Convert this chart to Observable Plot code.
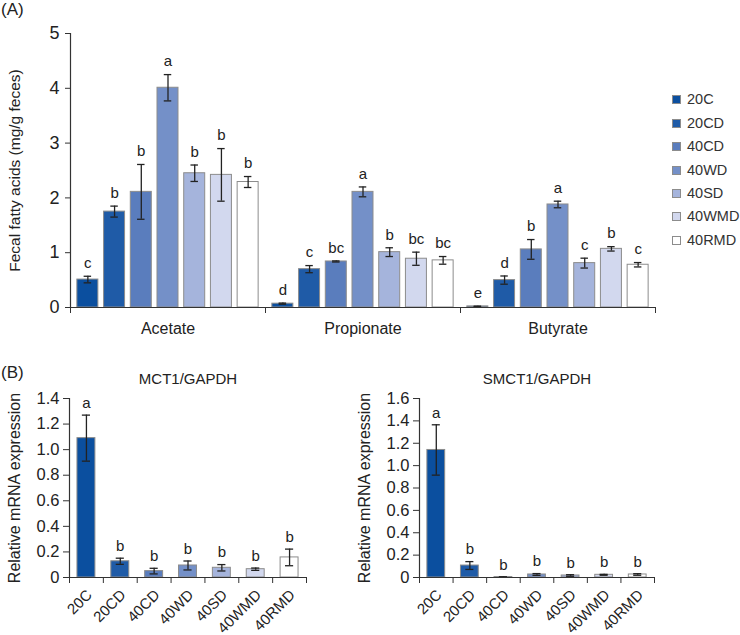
<!DOCTYPE html>
<html><head><meta charset="utf-8">
<script src="https://cdn.jsdelivr.net/npm/d3@7"></script>
<script src="https://cdn.jsdelivr.net/npm/@observablehq/plot@0.6"></script>
<style>
body{margin:0;background:#fff;font-family:"Liberation Sans",Arial,sans-serif;color:#222;}
#root{position:relative;width:740px;height:635px;overflow:hidden;background:#fff;}
.abs{position:absolute;}
.legrow{position:absolute;left:672px;height:16px;display:flex;align-items:center;font-size:14.5px;color:#333;}
.sw{width:9px;height:9px;border:1px solid #8c8c8c;box-sizing:border-box;margin-right:6px;}
</style></head><body><div id="root"></div>
<script>
// ---- data ----
const groups = ["20C","20CD","40CD","40WD","40SD","40WMD","40RMD"];
const groupColors = ["#0b4f9f","#1f5ba7","#5a7dbd","#7490c8","#a5b4dc","#d2d8ee","#ffffff"];
const acids = ["Acetate","Propionate","Butyrate"];

const acetateMean = [0.51,1.75,2.11,4.01,2.45,2.42,2.29];
const acetateErr  = [0.06,0.10,0.50,0.24,0.15,0.48,0.10];
const acetateSig  = ["c","b","b","a","b","b","b"];

const propionateMean = [0.07,0.70,0.84,2.11,1.01,0.89,0.86];
const propionateErr  = [0.01,0.065,0.01,0.09,0.08,0.12,0.07];
const propionateSig  = ["d","c","bc","a","b","bc","bc"];

const butyrateMean = [0.02,0.50,1.06,1.88,0.81,1.07,0.78];
const butyrateErr  = [0.005,0.075,0.18,0.06,0.09,0.04,0.04];
const butyrateSig  = ["e","d","b","a","c","b","c"];

const fattyTicks = [0,1,2,3,4,5];

const mct1Mean = [1.09,0.127,0.05,0.094,0.076,0.065,0.157];
const mct1Err  = [0.18,0.024,0.022,0.035,0.025,0.009,0.065];
const mct1Sig  = ["a","b","b","b","b","b","b"];
const mct1Ticks = [0,0.2,0.4,0.6,0.8,1.0,1.2,1.4];

const smct1Mean = [1.14,0.107,0.004,0.027,0.018,0.024,0.027];
const smct1Err  = [0.225,0.035,0.002,0.008,0.007,0.004,0.007];
const smct1Sig  = ["a","b","b","b","b","b","b"];
const smct1Ticks = [0,0.2,0.4,0.6,0.8,1.0,1.2,1.4,1.6];

// ---- build ----
const FONT = '"Liberation Sans", Arial, sans-serif';
const AX = "#333";
const root = document.getElementById("root");
function place(el, left, top){ const d=document.createElement("div"); d.className="abs"; d.style.left=left+"px"; d.style.top=top+"px"; d.appendChild(el); root.appendChild(d); return d; }

const acidSeries = {Acetate:[acetateMean,acetateErr,acetateSig], Propionate:[propionateMean,propionateErr,propionateSig], Butyrate:[butyrateMean,butyrateErr,butyrateSig]};
const dataA = [];
for (const a of acids) { const [m,e,s] = acidSeries[a]; groups.forEach((g,i)=>dataA.push({acid:a, group:g, i, mean:m[i], err:e[i], sig:s[i]})); }

const xLo = -0.15, xHi = 7.15, gapA = 0.107, capA = 0.14;
const chartA = Plot.plot({
  width: 740, height: 340, marginLeft: 69, marginRight: 85, marginTop: 33, marginBottom: 33,
  style: {fontFamily: FONT, fontSize: "16px", color: AX, background: "none"},
  fx: {domain: acids, padding: 0},
  x: {domain: [xLo, xHi]},
  y: {domain: [0, 5]},
  color: {domain: groups, range: groupColors},
  marks: [
    Plot.rectY(dataA, {fx: "acid", x1: d => d.i + gapA, x2: d => d.i + 1 - gapA, y1: 0, y2: "mean", fill: "group", stroke: "#8c8c8c", strokeWidth: 1}),
    Plot.ruleX(dataA, {fx: "acid", x: d => d.i + 0.5, y1: d => d.mean - d.err, y2: d => d.mean + d.err, stroke: "#222", strokeWidth: 1.3}),
    Plot.ruleY(dataA, {fx: "acid", x1: d => d.i + 0.5 - capA, x2: d => d.i + 0.5 + capA, y: d => d.mean + d.err, stroke: "#222", strokeWidth: 1.3}),
    Plot.ruleY(dataA, {fx: "acid", x1: d => d.i + 0.5 - capA, x2: d => d.i + 0.5 + capA, y: d => d.mean - d.err, stroke: "#222", strokeWidth: 1.3}),
    Plot.text(dataA, {fx: "acid", x: d => d.i + 0.5, y: d => d.mean + d.err, text: "sig", dy: -13, fontSize: 15, fill: "#222"}),
    Plot.ruleY([0], {stroke: AX, strokeWidth: 1.2}),
    Plot.ruleX([{acid: "Acetate"}], {fx: "acid", x: xLo, y1: 0, y2: 5, stroke: AX, strokeWidth: 1.2}),
    Plot.axisX({ticks: [xLo, xHi], tickFormat: () => "", tickSize: 6, label: null, stroke: AX}),
    Plot.axisFx({anchor: "bottom", tickSize: 0, tickPadding: 15, label: null, fontSize: 16, fill: "#222"}),
    Plot.axisY({ticks: fattyTicks, tickFormat: d3.format("d"), tickSize: 5, tickPadding: 6, fontSize: 18, label: null, fill: "#222"}),
    Plot.text([{acid: "Acetate", t: "Fecal fatty acids (mg/g feces)"}], {fx: "acid", text: "t", frameAnchor: "left", textAnchor: "middle", rotate: -90, dx: -55, fontSize: 15.5, fill: "#222"})
  ]
});
place(chartA, 0, 0);

// legend
const legTops = [99,123,146,170,193,216,240];
groups.forEach((g,i)=>{
  const row = document.createElement("div"); row.className="legrow"; row.style.top=(legTops[i]-8)+"px";
  const sw = document.createElement("div"); sw.className="sw"; sw.style.background=groupColors[i];
  const t = document.createElement("span"); t.textContent=g;
  row.appendChild(sw); row.appendChild(t); root.appendChild(row);
});

// panel labels
function label(txt, left, top){ const s=document.createElement("div"); s.className="abs"; s.style.left=left+"px"; s.style.top=top+"px"; s.style.fontSize="17px"; s.style.color="#222"; s.textContent=txt; root.appendChild(s); }
label("(A)", 1, 0);
label("(B)", 1, 363);

function panelB({means, errs, sigs, ticks, yMax, title, width, marginRight}) {
  const data = groups.map((g,i)=>({group:g, i, mean:means[i], err:errs[i], sig:sigs[i]}));
  const gap = 0.235, cap = 0.12;
  return Plot.plot({
    width, height: 295, marginLeft: 69, marginRight, marginTop: 58, marginBottom: 58,
    style: {fontFamily: FONT, fontSize: "15px", color: AX, background: "none"},
    x: {domain: [0, 7]},
    y: {domain: [0, yMax]},
    color: {domain: groups, range: groupColors},
    marks: [
      Plot.rectY(data, {x1: d => d.i + gap, x2: d => d.i + 1 - gap, y1: 0, y2: "mean", fill: "group", stroke: "#8c8c8c", strokeWidth: 1}),
      Plot.ruleX(data, {x: d => d.i + 0.5, y1: d => d.mean - d.err, y2: d => d.mean + d.err, stroke: "#222", strokeWidth: 1.3}),
      Plot.ruleY(data, {x1: d => d.i + 0.5 - cap, x2: d => d.i + 0.5 + cap, y: d => d.mean + d.err, stroke: "#222", strokeWidth: 1.3}),
      Plot.ruleY(data, {x1: d => d.i + 0.5 - cap, x2: d => d.i + 0.5 + cap, y: d => d.mean - d.err, stroke: "#222", strokeWidth: 1.3}),
      Plot.text(data, {x: d => d.i + 0.5, y: d => d.mean + d.err, text: "sig", dy: -12, fontSize: 15, fill: "#222"}),
      Plot.text([title], {frameAnchor: "top", dy: -25, fontSize: 15, fill: "#222"}),
      Plot.ruleY([0], {stroke: AX, strokeWidth: 1.2}),
      Plot.ruleX([0], {y1: 0, y2: yMax, stroke: AX, strokeWidth: 1.2}),
      Plot.axisX({ticks: d3.range(8), tickFormat: () => "", tickSize: 6, label: null, stroke: AX}),
      Plot.axisX({ticks: groups.map((g,i)=>i+0.5), tickFormat: v => groups[Math.floor(v)], tickSize: 0, tickPadding: 15, tickRotate: -45, dx: 3, fontSize: 15, label: null, fill: "#222"}),
      Plot.axisY({ticks, tickFormat: d => d === 0 ? "0" : d.toFixed(1), tickSize: 6, tickPadding: 4, fontSize: 16.5, label: null, fill: "#222"}),
      Plot.text(["Relative mRNA expression"], {frameAnchor: "left", textAnchor: "middle", rotate: -90, dx: -55, fontSize: 16, fill: "#222"})
    ]
  });
}

place(panelB({means: mct1Mean, errs: mct1Err, sigs: mct1Sig, ticks: mct1Ticks, yMax: 1.4, title: "MCT1/GAPDH", width: 350, marginRight: 44}), 0, 340);
place(panelB({means: smct1Mean, errs: smct1Err, sigs: smct1Sig, ticks: smct1Ticks, yMax: 1.6, title: "SMCT1/GAPDH", width: 390, marginRight: 86}), 350, 340);
</script></body></html>
